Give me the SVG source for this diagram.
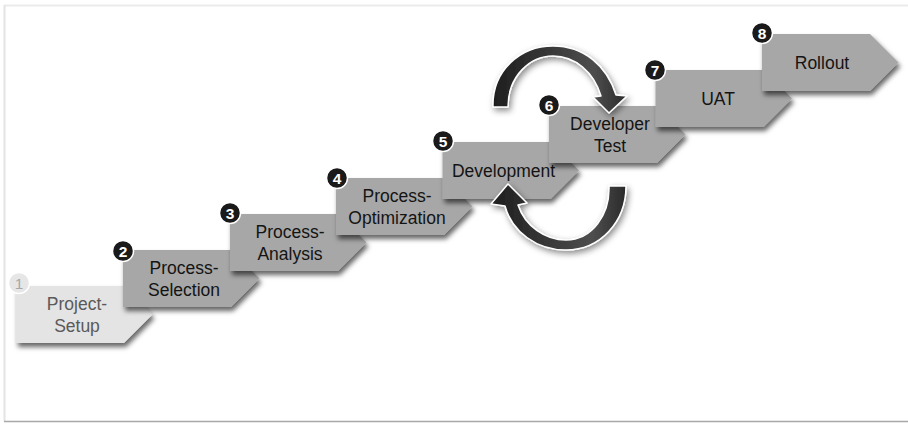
<svg xmlns="http://www.w3.org/2000/svg" width="908" height="424" viewBox="0 0 908 424">
  <defs>
    <filter id="sh" x="-20%" y="-30%" width="140%" height="170%">
      <feDropShadow dx="2" dy="4" stdDeviation="2.5" flood-color="#000" flood-opacity="0.6"/>
    </filter>
    <filter id="ash" x="-30%" y="-30%" width="160%" height="160%">
      <feDropShadow dx="2" dy="3" stdDeviation="3" flood-color="#000" flood-opacity="0.45"/>
    </filter>
    <linearGradient id="ag" x1="0" y1="0" x2="1" y2="0">
      <stop offset="0" stop-color="#1e1e1e"/>
      <stop offset="0.45" stop-color="#3a3a3a"/>
      <stop offset="0.75" stop-color="#4e4e4e"/>
      <stop offset="1" stop-color="#2a2a2a"/>
    </linearGradient>
    <style>
      .step { fill: #a7a7a7; filter: url(#sh); }
      .first { fill: #e4e4e4; filter: url(#sh); }
      .lbl { font-family: "Liberation Sans", Arial, sans-serif; font-size: 17.5px; fill: #141414; text-anchor: middle; }
      .lbl1 { font-family: "Liberation Sans", Arial, sans-serif; font-size: 17.5px; fill: #5a5a5a; text-anchor: middle; }
      .badge { fill: #1a1a1a; stroke: #ffffff; stroke-width: 1.5; }
      .badge1 { fill: #e6e6e6; stroke: #ffffff; stroke-width: 1.5; }
      .num { font-family: "Liberation Sans", Arial, sans-serif; font-size: 15.5px; font-weight: bold; fill: #ffffff; text-anchor: middle; }
      .num1 { font-family: "Liberation Sans", Arial, sans-serif; font-size: 15.5px; fill: #a8a8a8; text-anchor: middle; }
      .arr { fill: url(#ag); stroke: #ffffff; stroke-width: 1.5; stroke-linejoin: round; filter: url(#ash); }
    </style>
  </defs>
  <rect x="0" y="0" width="908" height="424" fill="#ffffff"/>
  <g id="frame" fill="none">
    <line x1="4" y1="5.5" x2="908" y2="5.5" stroke="#ebebeb" stroke-width="2"/>
    <line x1="4.5" y1="5" x2="4.5" y2="421" stroke="#e4e4e4" stroke-width="2"/>
    <line x1="4" y1="421.5" x2="908" y2="421.5" stroke="#a9a9a9" stroke-width="1.5"/>
  </g>

  <g id="step1">
    <path class="first" d="M16 286 h108 l28.5 28.5 l-28.5 28.5 h-108 z"/>
    <circle class="badge1" cx="19" cy="283" r="10.5"/>
    <text class="num1" x="19" y="288.5">1</text>
    <text class="lbl1" x="77" y="309.5">Project-</text>
    <text class="lbl1" x="77" y="331.5">Setup</text>
  </g>
  <g id="step2">
    <path class="step" d="M123 250 h108 l28.5 28.5 l-28.5 28.5 h-108 z"/>
    <circle class="badge" cx="123" cy="251" r="10.5"/>
    <text class="num" x="123" y="256.5">2</text>
    <text class="lbl" x="184" y="273.5">Process-</text>
    <text class="lbl" x="184" y="295.5">Selection</text>
  </g>
  <g id="step3">
    <path class="step" d="M230 214 h108 l28.5 28.5 l-28.5 28.5 h-108 z"/>
    <circle class="badge" cx="230" cy="213" r="10.5"/>
    <text class="num" x="230" y="218.5">3</text>
    <text class="lbl" x="290" y="237.5">Process-</text>
    <text class="lbl" x="290" y="259.5">Analysis</text>
  </g>
  <g id="step4">
    <path class="step" d="M336 178 h108 l28.5 28.5 l-28.5 28.5 h-108 z"/>
    <circle class="badge" cx="337" cy="178" r="10.5"/>
    <text class="num" x="337" y="183.5">4</text>
    <text class="lbl" x="397" y="201.5">Process-</text>
    <text class="lbl" x="397" y="223.5">Optimization</text>
  </g>
  <g id="step5">
    <path class="step" d="M442.5 142 h108 l28.5 28.5 l-28.5 28.5 h-108 z"/>
    <circle class="badge" cx="443" cy="141" r="10.5"/>
    <text class="num" x="443" y="146.5">5</text>
    <text class="lbl" x="503.5" y="176.5">Development</text>
  </g>
  <g id="step6">
    <path class="step" d="M549 106 h108 l28.5 28.5 l-28.5 28.5 h-108 z"/>
    <circle class="badge" cx="549" cy="105" r="10.5"/>
    <text class="num" x="549" y="110.5">6</text>
    <text class="lbl" x="610" y="129.5">Developer</text>
    <text class="lbl" x="610" y="151.5">Test</text>
  </g>
  <g id="step7">
    <path class="step" d="M655.5 70 h108 l28.5 28.5 l-28.5 28.5 h-108 z"/>
    <circle class="badge" cx="655" cy="70" r="10.5"/>
    <text class="num" x="655" y="75.5">7</text>
    <text class="lbl" x="718" y="104.5">UAT</text>
  </g>
  <g id="step8">
    <path class="step" d="M762 34 h108 l28.5 28.5 l-28.5 28.5 h-108 z"/>
    <circle class="badge" cx="762" cy="33" r="10.5"/>
    <text class="num" x="762" y="38.5">8</text>
    <text class="lbl" x="822" y="68.5">Rollout</text>
  </g>

  <g id="connectors">
    <path class="arr" d="M493 107 C492 71 520 46 553 46 C584 46 607 66 616 95 L627 96 L609 113 L593 97 L601 96 C594 72 575 56 553 56 C530 56 508 76 508 107 Z"/>
    <path class="arr" d="M609 186 L626 186 C626 222 600 250 566 250 C537 250 512 232 505 206 L491 204 L508 184 L527 203 L518 205 C525 226 545 240 566 240 C592 240 610 215 609 186 Z"/>
  </g>
</svg>
